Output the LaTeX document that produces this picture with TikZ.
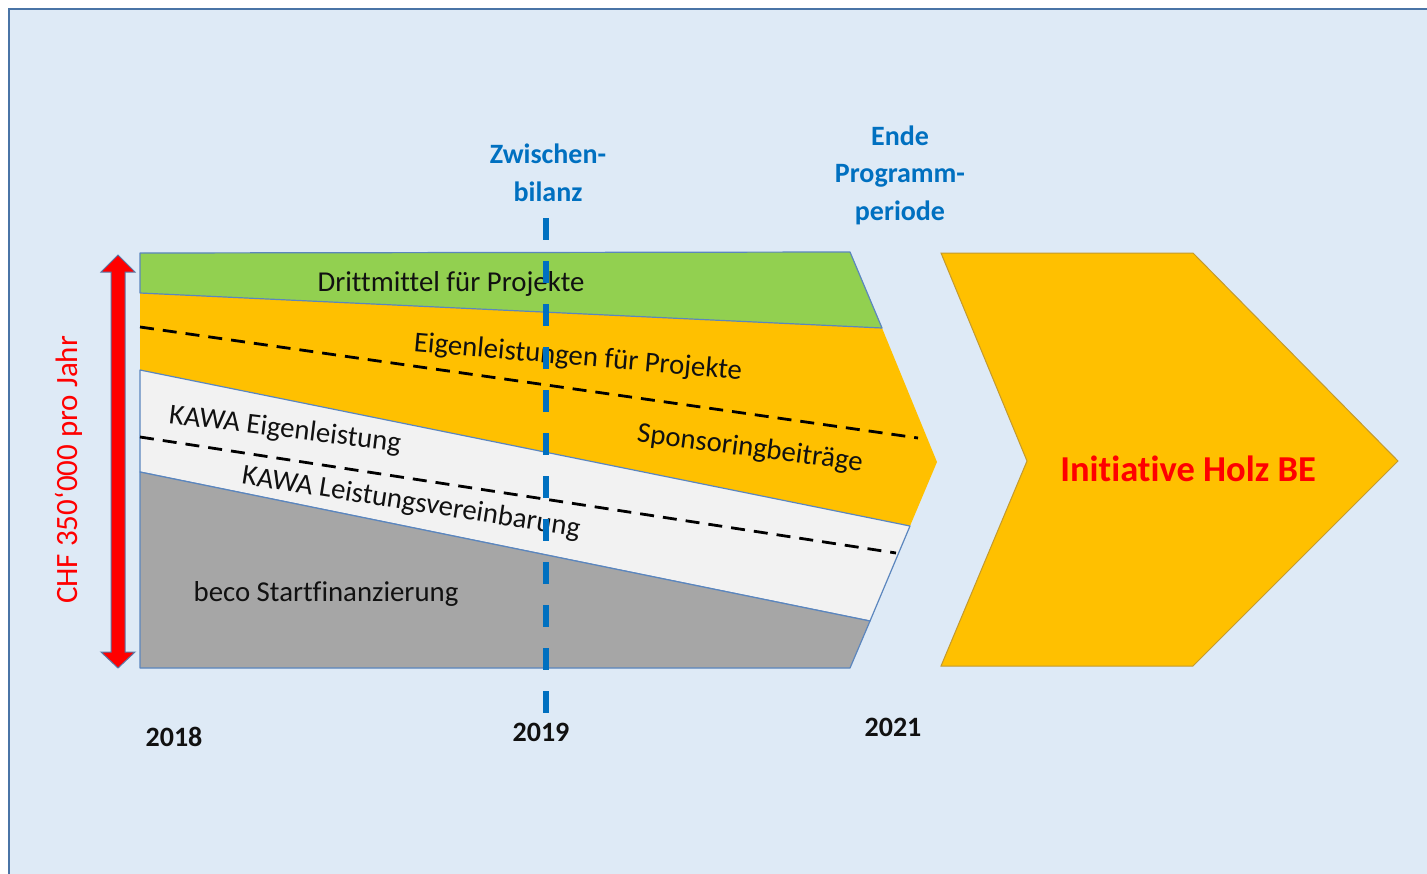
\documentclass[tikz,border=0pt]{standalone}
\usepackage{fontspec}
\setmainfont{Carlito}[Ligatures=CommonOff]
\definecolor{bgcol}{HTML}{DEEAF6}
\definecolor{framecol}{HTML}{4A74A6}
\definecolor{greencol}{HTML}{92D050}
\definecolor{orangecol}{HTML}{FFC000}
\definecolor{whitecol}{HTML}{F2F2F2}
\definecolor{greycol}{HTML}{A6A6A6}
\definecolor{edgecol}{HTML}{5B86BE}
\definecolor{bluetext}{HTML}{0070C0}
\definecolor{chevedge}{HTML}{C39A2E}
\definecolor{arrowedge}{HTML}{5A78A6}
\definecolor{txtcol}{HTML}{111111}
\begin{document}
\begin{tikzpicture}[x=1pt,y=-1pt,
  band/.style={draw=edgecol, line width=1.2pt, line join=round},
  bandlabel/.style={inner sep=0pt, text=txtcol, font=\fontsize{28.8}{34}\selectfont},
  yearlabel/.style={inner sep=0pt, text=txtcol, font=\bfseries\fontsize{28}{34}\selectfont},
  milestone/.style={inner sep=0pt, text=bluetext, align=center, font=\bfseries\fontsize{28}{37.5}\selectfont},
  blackdash/.style={black, line width=2.8pt, dash pattern=on 14pt off 9pt},
  bluedash/.style={bluetext, line width=5.5pt, dash pattern=on 22pt off 21pt}]
\useasboundingbox (0,0) rectangle (1427,873);
\clip (0,0) rectangle (1427,873);
\fill[white] (0,0) rectangle (1427,873);
\draw[framecol, line width=2.5pt, fill=bgcol] (9,9) rectangle (1445,895);

% bands
\fill[orangecol] (140,293) -- (882,328) -- (937,462) -- (910,526) -- (140,370) -- cycle;
\filldraw[band, fill=greencol] (140,253) -- (850,252) -- (882,328) -- (140,293) -- cycle;
\filldraw[band, fill=whitecol] (140,370) -- (910,526) -- (870,621) -- (140,472) -- cycle;
\filldraw[band, fill=greycol] (140,472) -- (870,621) -- (850,668) -- (140,668) -- cycle;

% dashed separators
\coordinate (d1a) at (140,327);
\coordinate (d1b) at (918,438);
\coordinate (d2a) at (140,437);
\coordinate (d2b) at (896,553);
\draw[blackdash] (d1a) -- (d1b);
\draw[blackdash] (d2a) -- (d2b);

% band labels
\node[bandlabel] (drittmittel) at (451,284) {Drittmittel für Projekte};
\node[bandlabel, rotate=-5] (eigen) at (578,358) {Eigenleistungen für Projekte};
\node[bandlabel, rotate=-7.5] (sponsor) at (750,449) {Sponsoringbeiträge};
\node[bandlabel, rotate=-7] (kawaeigen) at (285,430) {KAWA Eigenleistung};
\node[bandlabel, rotate=-9] (kawaleist) at (411,503) {KAWA Leistungsvereinbarung};
\node[bandlabel] (beco) at (326,594) {beco Startfinanzierung};

% milestone line
\coordinate (mtop) at (546,218);
\coordinate (mbot) at (546,713);
\draw[bluedash] (mtop) -- (mbot);

% milestone texts
\node[milestone] (zwischen) at (548,173) {Zwischen-\\bilanz};
\node[milestone] (ende) at (900,175) {Ende\\Programm-\\periode};

% years
\node[yearlabel] (y2018) at (174,737) {2018};
\node[yearlabel] (y2019) at (541,732) {2019};
\node[yearlabel] (y2021) at (893,727) {2021};

% red double arrow
\filldraw[fill=red, draw=arrowedge, line width=1pt, line join=miter]
  (118,255) -- (135,272) -- (125,272) -- (125,652) -- (135,652) -- (118,668)
  -- (101,652) -- (111,652) -- (111,272) -- (101,272) -- cycle;
\node[inner sep=0pt, text=red, rotate=90, font=\fontsize{31}{36}\selectfont] (chf) at (69,470) {CHF 350‘000 pro Jahr};

% chevron
\filldraw[fill=orangecol, draw=chevedge, line width=1pt]
  (941,253) -- (1193,253) -- (1398,461) -- (1193,666) -- (941,666) -- (1027,461) -- cycle;
\node[inner sep=0pt, text=red, font=\bfseries\fontsize{36.5}{42}\selectfont] (holz) at (1188,469) {Initiative Holz BE};
\end{tikzpicture}
\end{document}
